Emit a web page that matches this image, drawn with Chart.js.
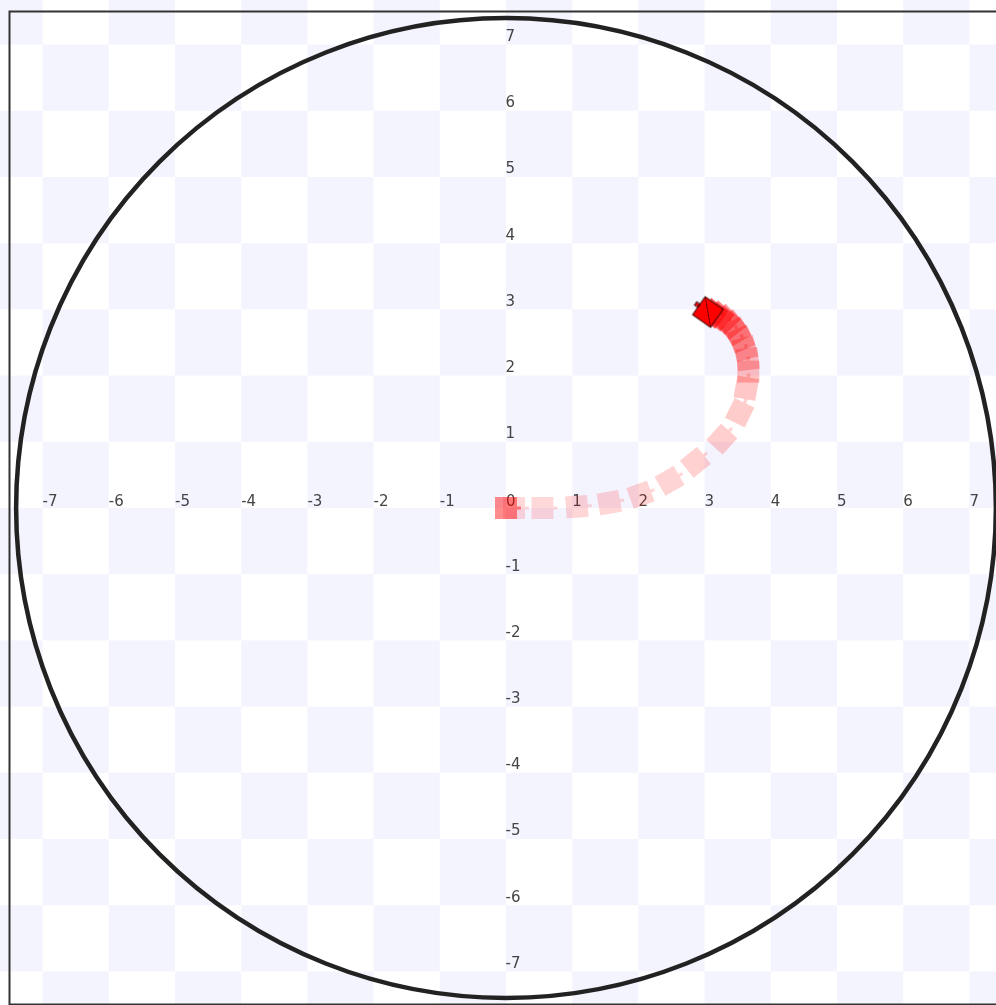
<!DOCTYPE html>
<html>
<head>
<meta charset="utf-8">
<script src="https://cdn.jsdelivr.net/npm/chart.js@4"></script>
<style>
  html, body { margin: 0; padding: 0; overflow: hidden; background: #fff; }
  #wrap { position: absolute; left: 0; top: 0; width: 1010px; height: 1010px; }
</style>
</head>
<body>
<div id="wrap"><canvas id="robotChart" width="1010" height="1010"></canvas></div>
<script>
// robot trail (world units)
const robotX = [0, 0.12, 0.55, 1.07, 1.56, 2.03, 2.47, 2.86, 3.26, 3.53, 3.63, 3.66, 3.65, 3.61, 3.55, 3.48, 3.40, 3.31, 3.22, 3.13, 3.05];
const robotY = [0, 0, 0, 0.02, 0.08, 0.20, 0.41, 0.69, 1.04, 1.44, 1.81, 2.06, 2.25, 2.41, 2.55, 2.67, 2.77, 2.85, 2.90, 2.94, 2.96];
const robotHeading = [0, 0, 0, 4, 10, 20, 30, 39, 48, 64, 80, 90, 97, 105, 113, 121, 128, 134, 139, 142, 145];
const robotAlpha = [0.45, 0.15, 0.15, 0.16, 0.16, 0.17, 0.17, 0.18, 0.19, 0.2, 0.22, 0.24, 0.26, 0.28, 0.3, 0.33, 0.37, 0.42, 0.5, 0.6, 1];

const xTicks = [-7, -6, -5, -4, -3, -2, -1, 0, 1, 2, 3, 4, 5, 6, 7];
const yTicks = [-7, -6, -5, -4, -3, -2, -1, 1, 2, 3, 4, 5, 6, 7];
const arenaRadius = 7.4;
const worldMin = -7.5;
const worldMax = 7.5;

// little robot sprite: square body with a nub on the front
function makeRobot(alpha, isLast) {
  const c = document.createElement('canvas');
  c.width = 36;
  c.height = 36;
  const g = c.getContext('2d');
  g.translate(18, 18);
  const h = 11;
  g.fillStyle = isLast ? '#ff0000' : 'rgba(255,0,0,' + alpha + ')';
  g.fillRect(-h, -h, 2 * h, 2 * h);
  g.fillRect(h, -1.5, 4, 3);
  if (isLast) {
    g.strokeStyle = '#400000';
    g.lineWidth = 1;
    g.strokeRect(-h, -h, 2 * h, 2 * h);
    g.strokeRect(h, -2, 4, 4);
    g.beginPath();
    g.moveTo(h, h);
    g.lineTo(-h, -h);
    g.stroke();
  }
  return c;
}

const sprites = robotAlpha.map((a, i) => makeRobot(a, i === robotAlpha.length - 1));

const backdrop = {
  id: 'backdrop',
  beforeDraw(chart) {
    const { ctx, scales: { x, y } } = chart;
    ctx.save();
    ctx.fillStyle = '#ffffff';
    ctx.fillRect(0, 0, chart.width, chart.height);
    ctx.fillStyle = '#f4f4ff';
    for (let i = -9; i < 9; i++) {
      for (let j = -9; j < 9; j++) {
        if (Math.abs(i + j) % 2 !== 1) continue;
        const x0 = x.getPixelForValue(i);
        const x1 = x.getPixelForValue(i + 1);
        const y0 = y.getPixelForValue(j + 1);
        const y1 = y.getPixelForValue(j);
        ctx.fillRect(x0, y0, x1 - x0, y1 - y0);
      }
    }
    ctx.restore();
  },
  beforeDatasetsDraw(chart) {
    const { ctx, chartArea, scales: { x, y } } = chart;
    ctx.save();
    ctx.strokeStyle = '#333';
    ctx.lineWidth = 2;
    ctx.strokeRect(chartArea.left, chartArea.top, chartArea.right - chartArea.left, chartArea.bottom - chartArea.top);
    // arena wall
    ctx.strokeStyle = '#222';
    ctx.lineWidth = 4.5;
    ctx.beginPath();
    ctx.arc(x.getPixelForValue(0), y.getPixelForValue(0), x.getPixelForValue(arenaRadius) - x.getPixelForValue(0), 0, Math.PI * 2);
    ctx.stroke();
    ctx.restore();
  }
};

Chart.defaults.font.family = '"DejaVu Sans", sans-serif';
Chart.defaults.font.size = 15;
Chart.defaults.color = '#444';

new Chart(document.getElementById('robotChart'), {
  type: 'scatter',
  data: {
    datasets: [{
      data: robotX.map((v, i) => ({ x: v, y: robotY[i] })),
      pointStyle: sprites,
      rotation: robotHeading.map(h => -h),
      pointRadius: 16,
      clip: false
    }]
  },
  options: {
    responsive: false,
    animation: false,
    events: [],
    layout: { autoPadding: false, padding: { left: 9.5, top: 11.5, right: 7.5, bottom: 5.5 } },
    plugins: { legend: { display: false }, tooltip: { enabled: false } },
    scales: {
      x: {
        type: 'linear',
        min: worldMin,
        max: worldMax,
        position: { y: 0 },
        grid: { display: false },
        border: { display: false },
        afterBuildTicks: s => { s.ticks = xTicks.map(v => ({ value: v })); },
        ticks: { align: 'start', mirror: true, padding: -4.5, callback: v => String(v) }
      },
      y: {
        type: 'linear',
        min: worldMin,
        max: worldMax,
        position: 'left',
        grid: { display: false },
        border: { display: false },
        afterBuildTicks: s => { s.ticks = yTicks.map(v => ({ value: v })); },
        afterFit: s => { s.width = 0; s.paddingTop = 0; s.paddingBottom = 0; },
        ticks: { align: 'end', mirror: true, padding: 496, callback: v => String(v) }
      }
    }
  },
  plugins: [backdrop]
});
</script>
</body>
</html>
